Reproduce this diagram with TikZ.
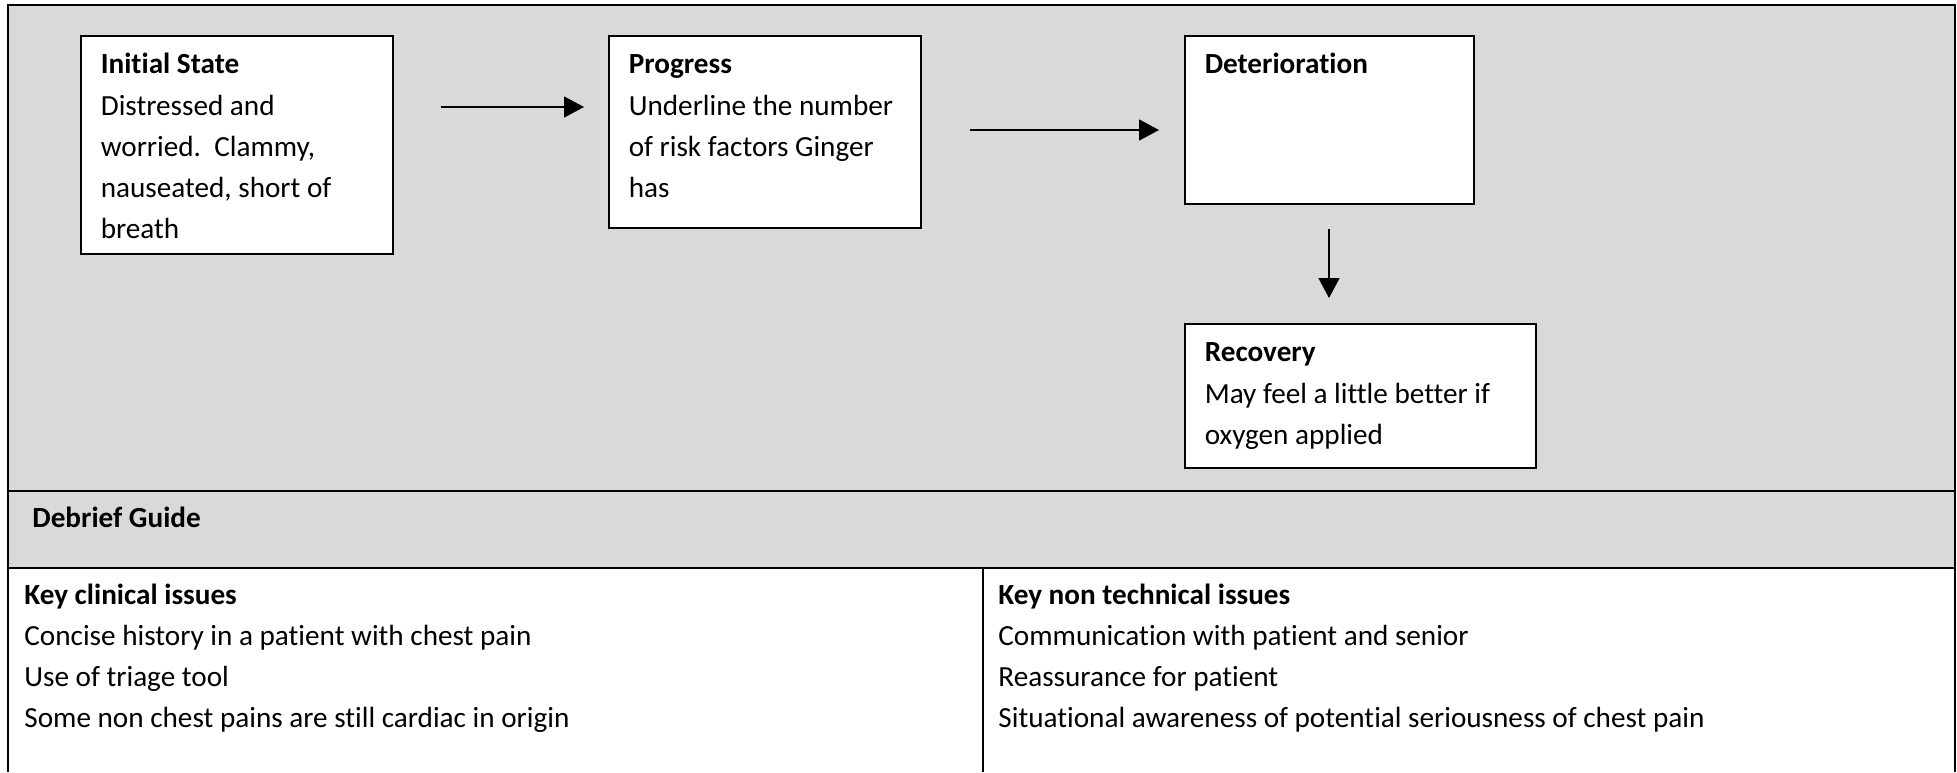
\documentclass[tikz,border=0pt]{standalone}
\usepackage{fontspec}
\setmainfont{Carlito}[Ligatures=NoCommon]
\usetikzlibrary{arrows.meta}
\definecolor{panelgray}{HTML}{D9D9D9}
\tikzset{
  stagebox/.style={draw, fill=white, line width=0.8pt, anchor=north west,
    inner xsep=10pt, inner ysep=4.6pt},
  flow/.style={line width=0.8pt, -{Triangle[length=10pt,width=10.5pt]}},
  rule/.style={line width=1pt},
  celltext/.style={anchor=base west, inner sep=0pt}
}
\newcommand{\stagetext}[4]{\parbox[t][#2][t]{#1}{\raggedright\strut\textbf{#3}\\#4}}

\begin{document}
\begin{tikzpicture}[x=0.5pt, y=-0.5pt, font=\fontsize{14.6pt}{20.6pt}\selectfont]
\useasboundingbox (0,0) rectangle (1957,772);
% table frame
\fill[panelgray] (8,5) rectangle (1955,568);
\draw[rule] (8,772) -- (8,5) -- (1955,5) -- (1955,772);
\draw[rule] (8,491) -- (1955,491);
\draw[rule] (8,568) -- (1955,568);
\draw[rule] (983,568) -- (983,772);

% stages
\node[stagebox] (init) at (80,35) {\stagetext{136pt}{99.8pt}{Initial State}{Distressed and\\worried.\ \ Clammy,\\nauseated, short of\\breath}};
\node[stagebox] (prog) at (608,35) {\stagetext{136pt}{86.8pt}{Progress}{Underline the number\\of risk factors Ginger\\has}};
\node[stagebox] (deter) at (1184,35) {\stagetext{124.5pt}{74.8pt}{Deterioration}{}};
\node[stagebox] (recov) at (1184,323) {\stagetext{155.5pt}{62.8pt}{Recovery}{May feel a little better if\\oxygen applied}};

\draw[flow] ([xshift=23.5pt,yshift=-36pt]init.north east) -- ([xshift=-12pt,yshift=-36pt]prog.north west);
\draw[flow] ([xshift=24pt,yshift=-47.5pt]prog.north east) -- ([xshift=-12.5pt,yshift=-47.5pt]deter.north west);
\draw[flow] ([xshift=72.5pt,yshift=-12pt]deter.south west) -- ([xshift=72.5pt,yshift=12.5pt]recov.north west);

% debrief
\node[celltext] (debrief) at (32,527) {\textbf{Debrief Guide}};
\node[celltext] (clinical) at (24,604) {\parbox[t]{440pt}{\textbf{Key clinical issues}\\Concise history in a patient with chest pain\\Use of triage tool\\Some non chest pains are still cardiac in origin}};
\node[celltext] (nontech) at (998,604) {\parbox[t]{440pt}{\textbf{Key non technical issues}\\Communication with patient and senior\\Reassurance for patient\\Situational awareness of potential seriousness of chest pain}};
\end{tikzpicture}
\end{document}
